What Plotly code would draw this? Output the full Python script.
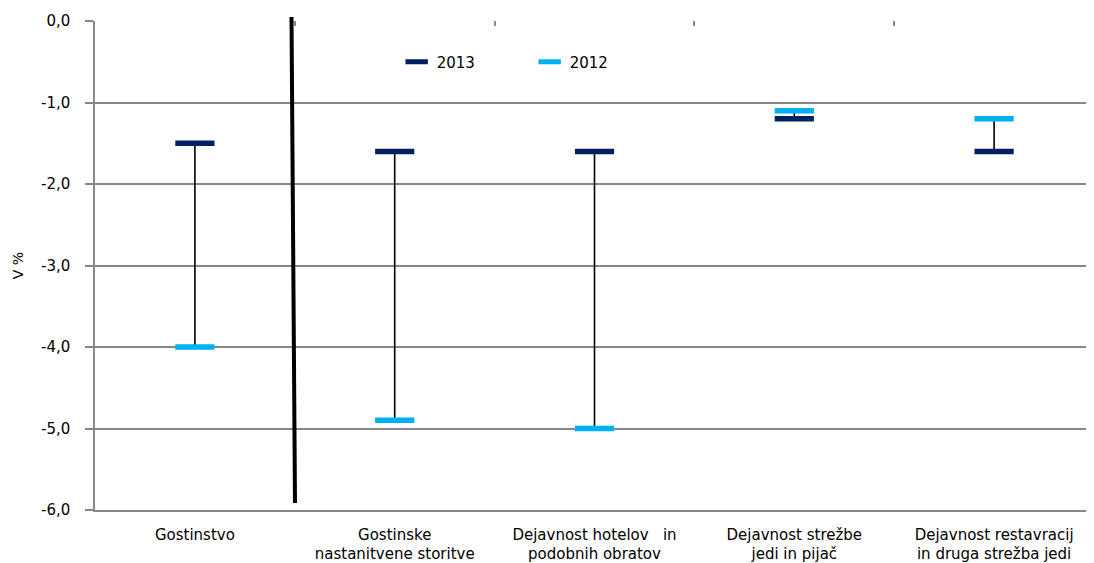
import plotly.graph_objects as go

categories = [
    "Gostinstvo",
    "Gostinske<br>nastanitvene storitve",
    "Dejavnost hotelov \u00a0 in<br>podobnih obratov",
    "Dejavnost strežbe<br>jedi in pijač",
    "Dejavnost restavracij<br>in druga strežba jedi",
]
values_2013 = [-1.5, -1.6, -1.6, -1.2, -1.6]
values_2012 = [-4.0, -4.9, -5.0, -1.1, -1.2]

y_ticks = [0, -1, -2, -3, -4, -5, -6]
y_tick_labels = ["0,0", "-1,0", "-2,0", "-3,0", "-4,0", "-5,0", "-6,0"]

NAVY = "#002060"
CYAN = "#00B0F0"
GRID = "#878787"
FONT = "DejaVu Sans"

# connector lines between the two years
conn_x, conn_y = [], []
for c, a, b in zip(categories, values_2013, values_2012):
    conn_x += [c, c, None]
    conn_y += [a, b, None]

fig = go.Figure()

fig.add_trace(go.Scatter(
    x=conn_x, y=conn_y, mode="lines",
    line=dict(color="black", width=1.6),
    showlegend=False, hoverinfo="skip"
))

fig.add_trace(go.Scatter(
    x=categories, y=values_2013, mode="markers", name="2013",
    marker=dict(symbol="line-ew", size=28, line=dict(color=NAVY, width=5.5))
))

fig.add_trace(go.Scatter(
    x=categories, y=values_2012, mode="markers", name="2012",
    marker=dict(symbol="line-ew", size=28, line=dict(color=CYAN, width=5.5))
))

# dummy trace so the overlay axes are drawn
fig.add_trace(go.Scatter(
    x=[None], y=[None], xaxis="x2", yaxis="y2",
    showlegend=False, hoverinfo="skip"
))

# thick separator line after the first category
fig.add_shape(
    type="line", xref="paper", yref="paper",
    x0=0.1967, y0=1.008, x1=0.2002, y1=0.0143,
    line=dict(color="black", width=4)
)

# page body adds an 8px offset, so the figure is shrunk by that much
fig.update_layout(
    width=1086, height=555,
    margin=dict(l=87, r=0, t=13, b=53),
    plot_bgcolor="white", paper_bgcolor="white",
    font=dict(family=FONT, size=13, color="black"),
    showlegend=True,
    legend=dict(
        orientation="h", x=0.302, y=0.916, xanchor="left", yanchor="middle",
        font=dict(family=FONT, size=15, color="black"),
        entrywidth=88, entrywidthmode="pixels",
        bgcolor="rgba(0,0,0,0)"
    ),
    xaxis=dict(
        type="category", categoryarray=categories,
        range=[-0.5, 4.5],
        showgrid=False, ticks="", showline=True,
        linecolor=GRID, linewidth=1.5,
        ticklabelstandoff=10,
        tickfont=dict(family=FONT, size=15, color="black"),
        zeroline=False,
    ),
    xaxis2=dict(
        overlaying="x", side="top", range=[-0.5, 4.5],
        tickmode="array", tickvals=[0.5, 1.5, 2.5, 3.5],
        ticks="inside", ticklen=5, tickwidth=1.5, tickcolor=GRID,
        showticklabels=False, showgrid=False, showline=False, zeroline=False,
        anchor="y2",
    ),
    yaxis=dict(
        range=[-6, 0], tickmode="array",
        tickvals=y_ticks, ticktext=y_tick_labels,
        showgrid=True, gridcolor=GRID, gridwidth=1.5,
        showline=True, linecolor=GRID, linewidth=1.5,
        ticks="outside", ticklen=8, tickwidth=1.5, tickcolor=GRID,
        ticklabelstandoff=12,
        zeroline=False,
        tickfont=dict(family=FONT, size=15, color="black"),
        title=dict(text="V %", font=dict(family=FONT, size=14, color="black"), standoff=14),
    ),
    yaxis2=dict(
        overlaying="y", range=[-6, 0], dtick=1,
        ticks="inside", ticklen=5, tickwidth=1.5, tickcolor=GRID,
        showticklabels=False, showgrid=False, showline=False, zeroline=False,
        anchor="x2",
    ),
)

fig.write_html("out.html")
